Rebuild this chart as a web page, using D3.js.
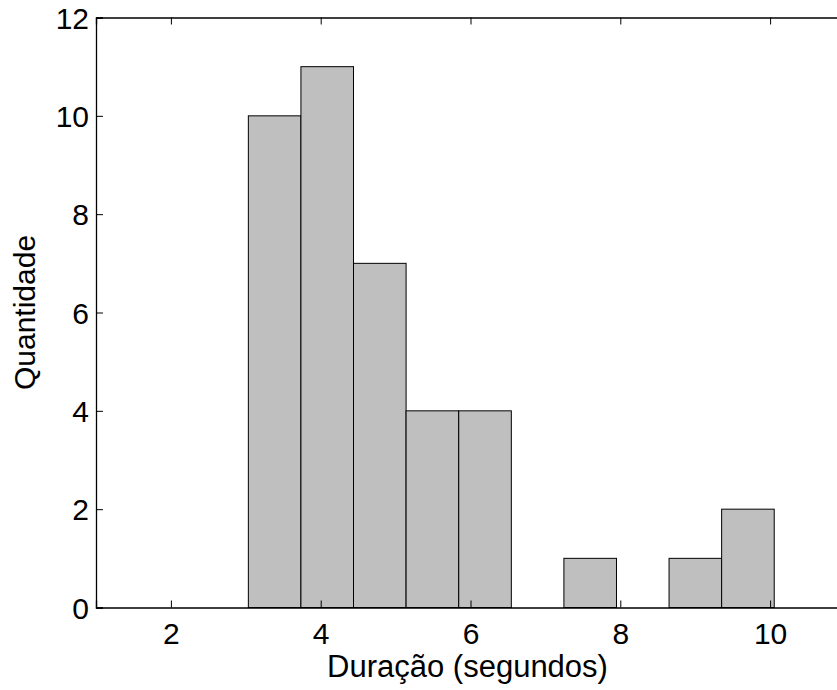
<!DOCTYPE html>
<html>
<head>
<meta charset="utf-8">
<script src="https://cdn.jsdelivr.net/npm/d3@7"></script>
<style>
html, body { margin: 0; padding: 0; background: #fff; }
svg { display: block; }
text { font-family: "Liberation Sans", Arial, sans-serif; fill: #000; }
</style>
</head>
<body>
<svg id="chart" width="837" height="690"></svg>
<script>
// Data
const binCenters = [3.385, 4.087, 4.789, 5.491, 6.194, 6.896, 7.598, 8.300, 9.002, 9.704];
const binWidth = 0.702;
const counts = [10, 11, 7, 4, 4, 0, 1, 0, 1, 2];
const xTicks = [2, 4, 6, 8, 10];
const yTicks = [0, 2, 4, 6, 8, 10, 12];
const xLabel = "Duração (segundos)";
const yLabel = "Quantidade";

(function () {
const svg = d3.select("#chart");
const mLeft = 96, mRight = 845, mTop = 17.5, mBottom = 607.5;
const x = d3.scaleLinear().domain([1, 11]).range([mLeft, mRight]);
const y = d3.scaleLinear().domain([0, 12]).range([mBottom, mTop]);

// Bars
svg.append("g").selectAll("rect").data(counts).join("rect")
  .attr("x", (d, i) => x(binCenters[i] - binWidth / 2))
  .attr("width", (d, i) => x(binCenters[i] + binWidth / 2) - x(binCenters[i] - binWidth / 2))
  .attr("y", d => y(d))
  .attr("height", d => y(0) - y(d))
  .attr("fill", "#bfbfbf")
  .attr("stroke", "#000")
  .attr("stroke-width", 1);

const tickLen = 7;
const fs = 30;
const xAxis = d3.axisBottom(x).tickValues(xTicks).tickSize(-tickLen).tickFormat(d3.format("d"));
const gx = svg.append("g").attr("transform", `translate(0,${mBottom})`).call(xAxis);
const gxt = svg.append("g").attr("transform", `translate(0,${mTop})`)
  .call(d3.axisTop(x).tickValues(xTicks).tickSize(-tickLen).tickFormat(""));
const yAxis = d3.axisLeft(y).tickValues(yTicks).tickSize(-tickLen).tickPadding(7).tickFormat(d3.format("d"));
const gy = svg.append("g").attr("transform", `translate(${mLeft},0)`).call(yAxis);
const gyr = svg.append("g").attr("transform", `translate(${mRight},0)`)
  .call(d3.axisRight(y).tickValues(yTicks).tickSize(-tickLen).tickFormat(""));

[gx, gxt, gy, gyr].forEach(g => {
  g.select(".domain").attr("stroke", "#000").attr("stroke-width", 1.3);
  g.selectAll(".tick line").attr("stroke", "#000").attr("stroke-width", 1);
  g.selectAll("text").style("font-family", '"Liberation Sans", Arial, sans-serif')
    .attr("font-size", fs).attr("fill", "#000");
});
gx.selectAll(".tick text").attr("y", 36.5).attr("dy", 0);
gy.selectAll(".tick text").attr("dy", "0.36em");

svg.append("text")
  .attr("x", x(6) - 3).attr("y", 677)
  .attr("text-anchor", "middle")
  .attr("font-size", 31)
  .text(xLabel);
svg.append("text")
  .attr("transform", `translate(34.5,${(mTop + mBottom) / 2}) rotate(-90)`)
  .attr("text-anchor", "middle")
  .attr("font-size", 30)
  .text(yLabel);
})();
</script>
</body>
</html>
